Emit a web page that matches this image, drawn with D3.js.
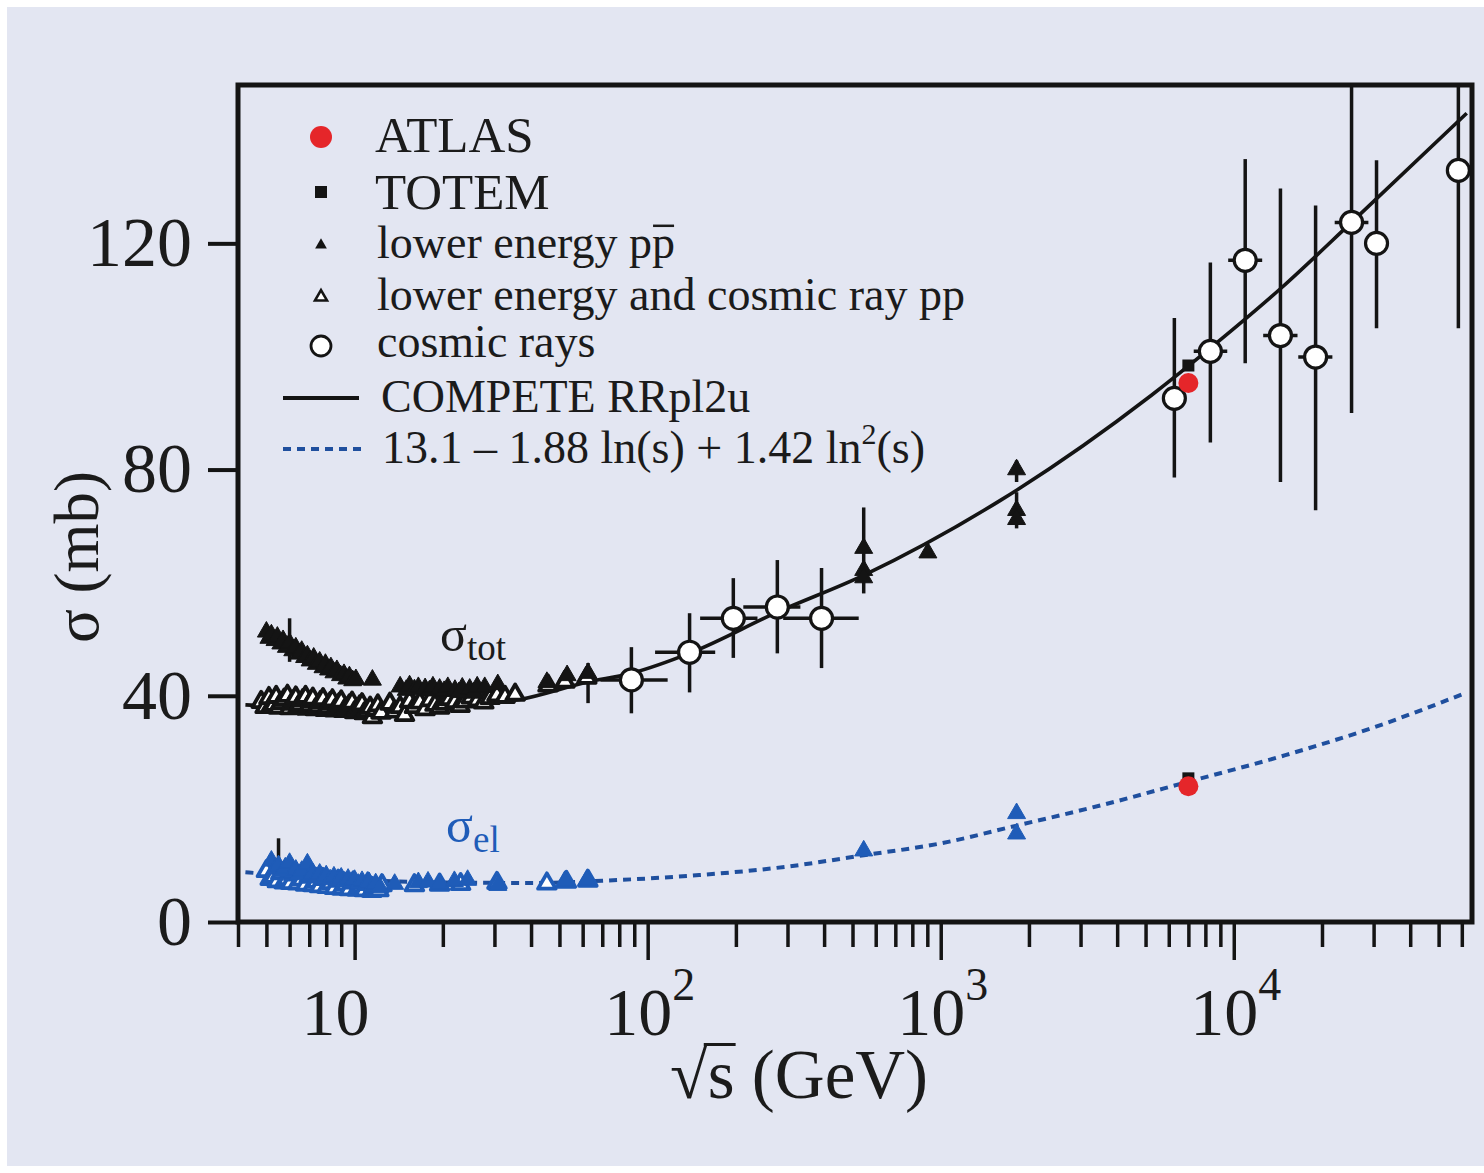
<!DOCTYPE html>
<html>
<head>
<meta charset="utf-8">
<script src="https://cdn.jsdelivr.net/npm/d3@7"></script>
<style>
  html, body { margin: 0; padding: 0; background: #ffffff; }
  svg { display: block; }
  text { font-family: "Liberation Serif", "Times New Roman", serif; fill: #1b1b1b; }
</style>
</head>
<body>
<svg id="chart" width="1484" height="1173"></svg>
<script>
// ---------------------------------------------------------------
// Total and elastic proton cross-sections versus sqrt(s)
// Each record: [sqrt(s) GeV, sigma mb, sigma low, sigma high]
// ---------------------------------------------------------------

// lower energy p-pbar, total (filled triangles)
const ppbarTotal = [
  [5.0, 51.3], [5.1, 50.2], [5.2, 50.8], [5.35, 49.8], [5.45, 50.4], [5.6, 49.2],
  [5.7, 49.8], [5.85, 48.6], [6.0, 49.3, 46.0, 53.7], [6.15, 48.0], [6.3, 48.5],
  [6.45, 47.4], [6.6, 47.9], [6.75, 46.8], [6.9, 47.1], [7.05, 46.2], [7.25, 46.7],
  [7.4, 45.6], [7.6, 46.0], [7.8, 45.0], [7.95, 45.6], [8.15, 44.6], [8.3, 45.0],
  [8.5, 44.1], [8.7, 44.5], [8.95, 43.6], [9.2, 43.8], [9.4, 43.0], [9.6, 43.4],
  [9.85, 42.7], [10.1, 42.9], [11.5, 42.8],
  [14.3, 41.6], [15.0, 41.0], [15.4, 41.8], [16.0, 41.1], [16.5, 41.5], [17.4, 41.3],
  [18.0, 40.9], [18.5, 41.6], [19.5, 41.2], [20.2, 40.8], [20.8, 41.5], [22.0, 41.0],
  [22.7, 40.6], [23.3, 41.4], [24.7, 41.2], [25.5, 40.5], [26.2, 41.6], [27.8, 41.5],
  [30.8, 42.0], [45.3, 42.4], [53.1, 43.6], [62.6, 44.0, 38.7, 45.8],
  [546, 66.1, 58.1, 73.3], [546, 62.2], [546, 60.9], [904, 65.3],
  [1815, 80.0, 77.8, 81.6], [1815, 72.8, 69.6, 76.0], [1815, 71.2]
];

// lower energy and cosmic ray p-p, total (open triangles)
const ppTotal = [
  [4.8, 38.9], [4.95, 38.0], [5.1, 39.6], [5.2, 38.2], [5.3, 38.4], [5.4, 39.8],
  [5.5, 37.9], [5.6, 38.7], [5.75, 39.3], [5.9, 40.0], [6.0, 37.8], [6.1, 38.6],
  [6.2, 39.1], [6.3, 39.7], [6.4, 37.9], [6.5, 38.5], [6.65, 39.2], [6.8, 39.8],
  [6.9, 37.7], [7.0, 38.3], [7.1, 39.0], [7.2, 39.5], [7.35, 37.6], [7.5, 38.2],
  [7.65, 38.9], [7.8, 39.4], [7.95, 37.5], [8.1, 38.0], [8.25, 38.7], [8.4, 39.2],
  [8.55, 37.4], [8.7, 37.9], [8.85, 38.5], [9.0, 39.0], [9.2, 37.3], [9.4, 37.7],
  [9.6, 38.3], [9.8, 38.8], [10.0, 37.1], [10.2, 37.5], [10.4, 38.1], [10.6, 38.5],
  [10.8, 36.9], [11.0, 37.3], [11.3, 37.9], [11.5, 36.2], [11.8, 37.5], [12.0, 38.3],
  [12.3, 37.0], [13.2, 38.6], [13.7, 37.2], [14.3, 38.0], [14.8, 36.6], [15.4, 39.0],
  [16.0, 38.0], [16.7, 38.8], [17.4, 37.6], [18.1, 39.2], [18.8, 38.4], [19.5, 37.9],
  [20.3, 38.6], [21.1, 39.4], [22.0, 38.9], [22.9, 38.2], [23.8, 39.0], [25.0, 39.7],
  [26.3, 39.2], [27.6, 38.8], [29.0, 39.6], [30.6, 40.1], [32.6, 39.8], [35.3, 40.2],
  [45.7, 41.8], [52.2, 42.5], [62.0, 43.2]
];

// lower energy p-pbar, elastic (filled triangles)
const ppbarElastic = [
  [5.2, 10.8], [5.35, 9.4], [5.5, 10.0, 10.0, 14.8], [5.65, 8.9], [5.8, 9.6], [6.0, 10.4],
  [6.15, 8.7], [6.3, 9.2], [6.45, 8.4], [6.6, 9.0], [6.9, 10.3], [7.05, 8.2],
  [7.2, 8.6], [7.4, 7.9], [7.6, 8.5], [7.8, 7.7], [8.0, 8.2], [8.25, 7.5],
  [8.5, 8.0], [8.75, 7.3], [9.0, 7.8], [9.25, 7.1], [9.5, 7.6], [9.75, 6.9],
  [10.0, 7.4], [10.3, 6.7], [10.6, 7.2], [10.9, 6.5], [11.2, 7.0], [11.5, 6.3],
  [11.8, 6.8], [12.2, 6.1], [13.7, 6.7], [16.5, 7.0],
  [17.8, 7.1], [19.5, 6.8], [21.9, 7.2], [24.3, 7.4], [30.8, 6.5], [52.1, 7.2],
  [62.0, 7.4], [546, 12.6], [1815, 19.2], [1815, 15.6]
];

// lower energy p-p, elastic (open triangles)
const ppElastic = [
  [5.0, 9.0], [5.15, 7.6], [5.3, 8.0], [5.45, 7.2], [5.6, 8.6], [5.75, 7.0],
  [5.9, 7.6], [6.05, 6.9], [6.2, 8.4], [6.4, 6.8], [6.6, 7.5], [6.8, 6.6],
  [7.0, 8.0], [7.2, 6.5], [7.4, 7.1], [7.6, 6.3], [7.8, 7.6], [8.05, 6.2],
  [8.3, 6.9], [8.55, 6.0], [8.8, 7.3], [9.05, 5.9], [9.3, 6.6], [9.6, 5.8],
  [9.9, 7.0], [10.2, 5.7], [10.5, 6.3], [10.8, 5.6], [11.1, 6.8], [11.45, 5.5],
  [11.8, 6.0], [12.1, 5.6], [12.4, 6.5], [16.0, 6.5], [19.5, 6.6], [23.0, 6.7],
  [30.6, 6.9], [45.3, 6.8], [52.8, 7.1], [62.5, 7.3]
];

// cosmic rays: [sqrt(s), sigma, sigma low, sigma high, sqrt(s) low, sqrt(s) high]
const cosmicRays = [
  [88, 42.8, 36.9, 48.6, 69, 117],
  [139, 47.7, 40.6, 54.6, 106, 170],
  [196, 53.7, 46.7, 60.8, 151, 237],
  [277, 55.7, 47.5, 64.0, 212, 332],
  [392, 53.7, 44.9, 62.6, 290, 525],
  [6270, 92.6, 78.6, 106.8],
  [8320, 100.9, 84.8, 116.6, 7300, 9500],
  [10940, 117.0, 98.8, 134.9, 9570, 12500],
  [14430, 103.7, 77.8, 129.7, 12600, 16500],
  [19020, 99.9, 72.8, 126.7, 16600, 21700],
  [25230, 123.7, 90.0, 160.0, 22100, 28800],
  [30700, 120.0, 105.0, 134.7],
  [58400, 132.9, 105.0, 160.0]
];

// LHC 7 TeV results: total and elastic
const atlas = [[7000, 95.3], [7000, 24.0]];
const totem = [[7000, 98.4], [7000, 25.4]];

// fitted curves
const competeCurve = [
  [4.24, 38.4], [7, 37.8], [10, 37.4], [13, 37.3], [20, 37.9], [37, 39.4], [62, 42.4],
  [88, 44.0], [140, 47.6], [277, 54.8], [545, 61.3], [1603, 74.6], [5224, 93.1],
  [8375, 101.6], [14520, 112.1], [25220, 123.7], [62370, 143.0]
];
const elasticCurve = [
  [4.24, 8.8], [6, 8.2], [10, 7.5], [20, 7.0], [40, 6.9], [70, 7.3], [150, 8.3],
  [300, 9.8], [546, 11.8], [1000, 13.9], [1800, 17.0], [3500, 20.6], [7000, 24.8],
  [15000, 29.5], [30000, 34.4], [60500, 40.3]
];

// axes
const xDomain = [4, 65000];
const yDomain = [0, 148];
const yTicks = [0, 40, 80, 120];
const xMajorTicks = [10, 100, 1000, 10000];
const xMajorExponents = [null, "2", "3", "4"];
const xMinorTicks = [];
for (let dec = 1; dec <= 10000; dec *= 10) {
  for (let m = 1; m <= 9; m++) {
    const v = m * dec;
    if (v >= xDomain[0] && v <= 60000 && !(m === 1 && dec > 1)) xMinorTicks.push(v);
  }
}

const legendLabels = [
  "ATLAS", "TOTEM", "lower energy pp", "lower energy and cosmic ray pp",
  "cosmic rays", "COMPETE RRpl2u", "13.1 \u2013 1.88 ln(s) + 1.42 ln"
];

// ---------------------------------------------------------------
const BLUE = "#1f5cb8";
const BLUE_LINE = "#1f4f9e";
const RED = "#e5262a";
const INK = "#141414";

const svg = d3.select("#chart");
svg.append("rect").attr("x", 7).attr("y", 7).attr("width", 1477).attr("height", 1159)
  .attr("fill", "#e3e6f2");

const L = 238, R = 1472, T = 85, B = 922;
const x = d3.scaleLog().domain(xDomain).range([L, R]);
const y = d3.scaleLinear().domain(yDomain).range([B, T]);

svg.append("clipPath").attr("id", "plotClip")
  .append("rect").attr("x", L).attr("y", T).attr("width", R - L).attr("height", B - T);

// x axis: minor ticks then longer decade ticks
const xAxisMinor = svg.append("g").attr("transform", `translate(0,${B})`)
  .call(d3.axisBottom(x).tickValues(xMinorTicks).tickSize(25).tickFormat(""));
const xAxisMajor = svg.append("g").attr("transform", `translate(0,${B})`)
  .call(d3.axisBottom(x).tickValues(xMajorTicks).tickSize(38).tickFormat(""));
[xAxisMinor, xAxisMajor].forEach(g => {
  g.select(".domain").remove();
  g.selectAll(".tick line").attr("stroke", INK).attr("stroke-width", 3.5);
});

// decade labels with superscript exponents
xMajorTicks.forEach((v, i) => {
  const exp = xMajorExponents[i];
  const t = svg.append("text")
    .attr("x", x(v) + (exp ? 2 : -19))
    .attr("y", 1035)
    .attr("text-anchor", "middle")
    .style("font-size", "68px")
    .text("10");
  if (exp) {
    t.append("tspan").attr("dy", -35).style("font-size", "46px").text(exp);
  }
});

// y axis
const yAxis = svg.append("g").attr("transform", `translate(${L},0)`)
  .call(d3.axisLeft(y).tickValues(yTicks).tickSize(30).tickPadding(16));
yAxis.select(".domain").remove();
yAxis.selectAll(".tick line").attr("stroke", INK).attr("stroke-width", 4);
yAxis.selectAll(".tick text")
  .attr("fill", "#1b1b1b")
  .style("font-family", '"Liberation Serif", serif')
  .style("font-size", "70px");

// axis titles
svg.append("text")
  .attr("transform", "translate(98,557) rotate(-90)")
  .attr("text-anchor", "middle")
  .style("font-size", "63px")
  .text("\u03c3 (mb)");

const xTitleSize = 69;
const xTitle = svg.append("text")
  .attr("x", 799).attr("y", 1098)
  .attr("text-anchor", "middle")
  .style("font-size", xTitleSize + "px")
  .text("\u221as (GeV)");
{
  // overbar continuing the radical across the s
  const n = xTitle.node();
  const rad = n.getExtentOfChar(0);
  const s = n.getExtentOfChar(1);
  const yTop = 1098 - 0.775 * xTitleSize;
  svg.append("line")
    .attr("x1", rad.x + rad.width - 4).attr("x2", s.x + s.width + 1)
    .attr("y1", yTop).attr("y2", yTop)
    .attr("stroke", "#1b1b1b").attr("stroke-width", 3);
}

// plot layers
const plot = svg.append("g");
const clipped = plot.append("g").attr("clip-path", "url(#plotClip)");

// error bars
const bars = clipped.append("g").attr("stroke", INK).attr("stroke-width", 3.5);
[ppbarTotal, ppbarElastic, cosmicRays].forEach(set => {
  set.filter(d => d.length >= 4).forEach(d => {
    bars.append("line").attr("x1", x(d[0])).attr("x2", x(d[0]))
      .attr("y1", y(d[2])).attr("y2", y(d[3]));
  });
});
cosmicRays.filter(d => d.length >= 6).forEach(d => {
  bars.append("line").attr("x1", x(d[4])).attr("x2", x(d[5]))
    .attr("y1", y(d[1])).attr("y2", y(d[1]));
});

// cosmic ray circles
plot.append("g").selectAll("circle").data(cosmicRays).join("circle")
  .attr("cx", d => x(d[0])).attr("cy", d => y(d[1])).attr("r", 11)
  .attr("fill", "#ffffff").attr("stroke", INK).attr("stroke-width", 3.2);

const tri = d3.symbol().type(d3.symbolTriangle);

function triangles(data, size, fill, stroke, sw) {
  plot.append("g").selectAll("path").data(data).join("path")
    .attr("transform", d => `translate(${x(d[0])},${y(d[1])})`)
    .attr("d", tri.size(size)())
    .attr("fill", fill).attr("stroke", stroke).attr("stroke-width", sw)
    .attr("stroke-linejoin", "round");
}
triangles(ppTotal, 135, "#ffffff", INK, 3.8);
triangles(ppElastic, 135, "#ffffff", BLUE, 3.8);
triangles(ppbarTotal, 140, INK, INK, 1);
triangles(ppbarElastic, 140, BLUE, BLUE, 1);

// LHC points
plot.append("g").selectAll("rect").data(totem).join("rect")
  .attr("x", d => x(d[0]) - 6).attr("y", d => y(d[1]) - 6)
  .attr("width", 12).attr("height", 12).attr("fill", INK);
plot.append("g").selectAll("circle").data(atlas).join("circle")
  .attr("cx", d => x(d[0])).attr("cy", d => y(d[1])).attr("r", 10)
  .attr("fill", RED);

// curves
const line = d3.line().x(d => x(d[0])).y(d => y(d[1])).curve(d3.curveMonotoneX);
clipped.append("path").datum(competeCurve).attr("d", line)
  .attr("fill", "none").attr("stroke", INK).attr("stroke-width", 3.6);
clipped.append("path").datum(elasticCurve).attr("d", line)
  .attr("fill", "none").attr("stroke", BLUE_LINE).attr("stroke-width", 4)
  .attr("stroke-dasharray", "8 6");

// curve annotations
const sTot = svg.append("text").attr("x", 440).attr("y", 651).style("font-size", "50px").text("\u03c3");
sTot.append("tspan").attr("dy", 9).style("font-size", "37px").text("tot");
const sEl = svg.append("text").attr("x", 446).attr("y", 842)
  .style("font-size", "50px").style("fill", BLUE).text("\u03c3");
sEl.append("tspan").attr("dy", 10).style("font-size", "37px").style("fill", BLUE).text("el");

// legend
const legend = svg.append("g");
const rowY = [137, 192, 245, 297, 346, 398, 449];
const textY = [152, 209, 258, 310, 357, 412, 463];
const textX = [375, 375, 377, 377, 377, 381, 382];
const symX = 321;

legend.append("circle").attr("cx", symX).attr("cy", rowY[0]).attr("r", 11).attr("fill", RED);
legend.append("rect").attr("x", symX - 6).attr("y", rowY[1] - 6).attr("width", 12).attr("height", 12).attr("fill", INK);
legend.append("path").attr("transform", `translate(${symX},${rowY[2]})`)
  .attr("d", tri.size(60)()).attr("fill", INK);
legend.append("path").attr("transform", `translate(${symX},${rowY[3]})`)
  .attr("d", tri.size(62)()).attr("fill", "#ffffff").attr("stroke", INK).attr("stroke-width", 2.6);
legend.append("circle").attr("cx", symX).attr("cy", rowY[4]).attr("r", 10)
  .attr("fill", "#ffffff").attr("stroke", INK).attr("stroke-width", 2.8);
legend.append("line").attr("x1", 283).attr("x2", 359).attr("y1", rowY[5]).attr("y2", rowY[5])
  .attr("stroke", INK).attr("stroke-width", 4);
legend.append("line").attr("x1", 283).attr("x2", 361).attr("y1", rowY[6]).attr("y2", rowY[6])
  .attr("stroke", BLUE_LINE).attr("stroke-width", 4).attr("stroke-dasharray", "8 6");

legendLabels.forEach((lab, i) => {
  const t = legend.append("text").attr("x", textX[i]).attr("y", textY[i])
    .style("font-size", i < 2 ? "51px" : "46px").text(lab);
  if (i === 6) {
    t.append("tspan").attr("dy", -19).style("font-size", "30px").text("2");
    t.append("tspan").attr("dy", 19).text("(s)");
  }
  if (i === 2) {
    // antiproton bar over the final p
    const n = t.node();
    const e = n.getExtentOfChar(lab.length - 1);
    const yb = textY[i] - 0.7 * 46;
    legend.append("line").attr("x1", e.x + 1).attr("x2", e.x + e.width - 1)
      .attr("y1", yb).attr("y2", yb).attr("stroke", "#1b1b1b").attr("stroke-width", 2.5);
  }
});

// frame
svg.append("rect").attr("x", L).attr("y", T).attr("width", R - L).attr("height", B - T)
  .attr("fill", "none").attr("stroke", INK).attr("stroke-width", 5);
</script>
</body>
</html>
